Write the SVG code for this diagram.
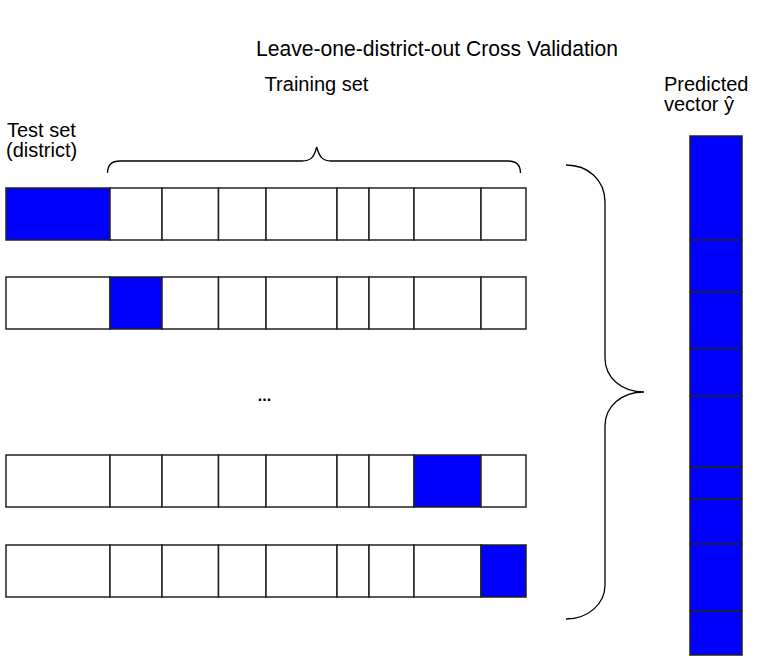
<svg xmlns="http://www.w3.org/2000/svg" width="762" height="657" viewBox="0 0 762 657">
<style>
text{font-family:"Liberation Sans",Arial,sans-serif;fill:#000}
.t{font-size:20px}
.c{fill:#fff;stroke:#222;stroke-width:1.5}
.b{fill:#0000ff;stroke:#222;stroke-width:1.5}
.br{fill:none;stroke:#000;stroke-width:1.3}
</style>
<rect width="762" height="657" fill="#fff"/>
<text id="title" x="437" y="56" font-size="22" text-anchor="middle" textLength="362" lengthAdjust="spacingAndGlyphs">Leave-one-district-out Cross Validation</text>
<text id="train-label" class="t" x="316.5" y="91" text-anchor="middle">Training set</text>
<g id="test-label"><text class="t" x="7" y="137">Test set</text><text class="t" x="6" y="157">(district)</text></g>
<g id="pred-label"><text class="t" x="664" y="91">Predicted</text><text class="t" x="664" y="111">vector ŷ</text></g>
<g id="row1">
<rect class="b" x="6" y="188" width="104" height="52"/>
<rect class="c" x="110" y="188" width="52" height="52"/>
<rect class="c" x="162" y="188" width="56.5" height="52"/>
<rect class="c" x="218.5" y="188" width="47.5" height="52"/>
<rect class="c" x="266" y="188" width="71" height="52"/>
<rect class="c" x="337" y="188" width="32" height="52"/>
<rect class="c" x="369" y="188" width="45" height="52"/>
<rect class="c" x="414" y="188" width="67" height="52"/>
<rect class="c" x="481" y="188" width="45" height="52"/>
</g>
<g id="row2">
<rect class="c" x="6" y="277" width="104" height="52"/>
<rect class="b" x="110" y="277" width="52" height="52"/>
<rect class="c" x="162" y="277" width="56.5" height="52"/>
<rect class="c" x="218.5" y="277" width="47.5" height="52"/>
<rect class="c" x="266" y="277" width="71" height="52"/>
<rect class="c" x="337" y="277" width="32" height="52"/>
<rect class="c" x="369" y="277" width="45" height="52"/>
<rect class="c" x="414" y="277" width="67" height="52"/>
<rect class="c" x="481" y="277" width="45" height="52"/>
</g>
<text id="ellipsis" x="264.5" y="401" font-size="16" font-weight="bold" text-anchor="middle">...</text>
<g id="row3">
<rect class="c" x="6" y="455" width="104" height="52"/>
<rect class="c" x="110" y="455" width="52" height="52"/>
<rect class="c" x="162" y="455" width="56.5" height="52"/>
<rect class="c" x="218.5" y="455" width="47.5" height="52"/>
<rect class="c" x="266" y="455" width="71" height="52"/>
<rect class="c" x="337" y="455" width="32" height="52"/>
<rect class="c" x="369" y="455" width="45" height="52"/>
<rect class="b" x="414" y="455" width="67" height="52"/>
<rect class="c" x="481" y="455" width="45" height="52"/>
</g>
<g id="row4">
<rect class="c" x="6" y="545" width="104" height="52"/>
<rect class="c" x="110" y="545" width="52" height="52"/>
<rect class="c" x="162" y="545" width="56.5" height="52"/>
<rect class="c" x="218.5" y="545" width="47.5" height="52"/>
<rect class="c" x="266" y="545" width="71" height="52"/>
<rect class="c" x="337" y="545" width="32" height="52"/>
<rect class="c" x="369" y="545" width="45" height="52"/>
<rect class="c" x="414" y="545" width="67" height="52"/>
<rect class="b" x="481" y="545" width="45" height="52"/>
</g>
<g id="vector">
<rect class="b" x="690" y="136" width="52" height="104"/>
<rect class="b" x="690" y="240" width="52" height="52"/>
<rect class="b" x="690" y="292" width="52" height="56.5"/>
<rect class="b" x="690" y="348.5" width="52" height="47.5"/>
<rect class="b" x="690" y="396" width="52" height="71"/>
<rect class="b" x="690" y="467" width="52" height="32"/>
<rect class="b" x="690" y="499" width="52" height="45"/>
<rect class="b" x="690" y="544" width="52" height="67"/>
<rect class="b" x="690" y="611" width="52" height="44"/>
</g>
<g id="connectors">
<path class="br" d="M107.5,173 C107.5,165 111,161 120,161 L302,161 C310,161 314,158 316.7,147 C319.5,158 323.5,161 331,161 L508,161 C517,161 520.5,165 520.5,173"/>
<path class="br" d="M566,165 C588,165 605,180 605,202 L605,358 C605,378 622,392 644,392 C622,392 605,406 605,426 L605,585 C605,604 588,619 566,619"/>
</g>
</svg>
